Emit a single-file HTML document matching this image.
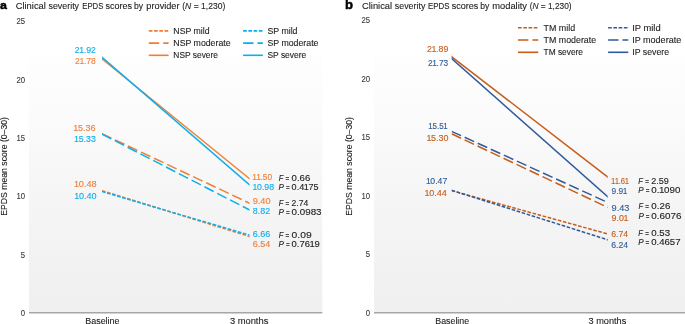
<!DOCTYPE html><html><head><meta charset="utf-8"><style>html,body{margin:0;padding:0;background:#fff;width:685px;height:324px;overflow:hidden}svg{display:block;will-change:transform}text{font-family:"Liberation Sans",sans-serif}</style></head><body>
<svg width="685" height="324" viewBox="0 0 685 324">
<defs><linearGradient id="g" x1="0" y1="0" x2="0" y2="1"><stop offset="0" stop-color="#fefefe"/><stop offset="0.18" stop-color="#fcfcfc"/><stop offset="0.4" stop-color="#f8f8f8"/><stop offset="0.78" stop-color="#f2f2f2"/><stop offset="1" stop-color="#f0f0f0"/></linearGradient></defs>
<rect x="29" y="55" width="293.3" height="257.8" fill="url(#g)"/>
<line x1="29" y1="312.65" x2="322.3" y2="312.65" stroke="#a6a6a6" stroke-width="1.5"/>
<text transform="translate(-0.1,8.9) scale(1.08,1)" font-size="11.5" font-weight="bold" fill="#000" stroke="#000" stroke-width="0.45">a</text>
<text transform="translate(15.68,9.30) scale(0.9964,1)" font-size="9.4" fill="#1e1e1e" stroke="#1e1e1e" stroke-width="0.12">Clinical</text>
<text transform="translate(48.51,9.30) scale(0.9436,1)" font-size="9.4" fill="#1e1e1e" stroke="#1e1e1e" stroke-width="0.12">severity</text>
<text transform="translate(82.22,9.30) scale(0.8237,1)" font-size="9.4" fill="#1e1e1e" stroke="#1e1e1e" stroke-width="0.12">EPDS</text>
<text transform="translate(105.51,9.30) scale(0.9597,1)" font-size="9.4" fill="#1e1e1e" stroke="#1e1e1e" stroke-width="0.12">scores</text>
<text transform="translate(134.00,9.30) scale(0.9134,1)" font-size="9.4" fill="#1e1e1e" stroke="#1e1e1e" stroke-width="0.12">by</text>
<text transform="translate(146.36,9.30) scale(0.9786,1)" font-size="9.4" fill="#1e1e1e" stroke="#1e1e1e" stroke-width="0.12">provider</text>
<text transform="translate(182.22,9.30) scale(0.9107,1)" font-size="9.4" fill="#1e1e1e" stroke="#1e1e1e" stroke-width="0.12">(<tspan font-style="italic">N</tspan> = 1,230)</text>
<text transform="translate(25.1,24.30) scale(0.88,1)" font-size="8.8" fill="#3a3a3a" stroke="#3a3a3a" stroke-width="0.12" text-anchor="end">25</text>
<text transform="translate(25.1,82.60) scale(0.88,1)" font-size="8.8" fill="#3a3a3a" stroke="#3a3a3a" stroke-width="0.12" text-anchor="end">20</text>
<text transform="translate(25.1,140.90) scale(0.88,1)" font-size="8.8" fill="#3a3a3a" stroke="#3a3a3a" stroke-width="0.12" text-anchor="end">15</text>
<text transform="translate(25.1,199.20) scale(0.88,1)" font-size="8.8" fill="#3a3a3a" stroke="#3a3a3a" stroke-width="0.12" text-anchor="end">10</text>
<text transform="translate(25.1,257.50) scale(0.88,1)" font-size="8.8" fill="#3a3a3a" stroke="#3a3a3a" stroke-width="0.12" text-anchor="end">5</text>
<text transform="translate(25.1,315.80) scale(0.88,1)" font-size="8.8" fill="#3a3a3a" stroke="#3a3a3a" stroke-width="0.12" text-anchor="end">0</text>
<text transform="translate(7.3,166.4) rotate(-90)" font-size="9.5" fill="#1e1e1e" stroke="#1e1e1e" stroke-width="0.12" text-anchor="middle" textLength="98.7" lengthAdjust="spacingAndGlyphs">EPDS mean score (0–30)</text>
<text transform="translate(85.22,323.80) scale(0.9226,1)" font-size="9.7" fill="#1e1e1e" stroke="#1e1e1e" stroke-width="0.12">Baseline</text>
<text transform="translate(229.89,323.80) scale(0.9648,1)" font-size="9.7" fill="#1e1e1e" stroke="#1e1e1e" stroke-width="0.12">3 months</text>
<line x1="148.8" y1="30.9" x2="168.6" y2="30.9" stroke="#ef7f35" stroke-width="1.6" stroke-dasharray="3.65 1.6"/>
<text transform="translate(173.33,33.80) scale(0.9504,1)" font-size="9.2" fill="#1e1e1e" stroke="#1e1e1e" stroke-width="0.12">NSP mild</text>
<line x1="148.8" y1="43.1" x2="168.6" y2="43.1" stroke="#ef7f35" stroke-width="1.6" stroke-dasharray="10.4 4.0"/>
<text transform="translate(173.33,46.00) scale(0.9524,1)" font-size="9.2" fill="#1e1e1e" stroke="#1e1e1e" stroke-width="0.12">NSP moderate</text>
<line x1="148.8" y1="55.3" x2="168.6" y2="55.3" stroke="#ef7f35" stroke-width="1.6"/>
<text transform="translate(173.36,58.20) scale(0.9130,1)" font-size="9.2" fill="#1e1e1e" stroke="#1e1e1e" stroke-width="0.12">NSP severe</text>
<line x1="243.1" y1="30.9" x2="262.9" y2="30.9" stroke="#0daeec" stroke-width="1.6" stroke-dasharray="3.65 1.6"/>
<text transform="translate(267.46,33.80) scale(0.9533,1)" font-size="9.2" fill="#1e1e1e" stroke="#1e1e1e" stroke-width="0.12">SP mild</text>
<line x1="243.1" y1="43.1" x2="262.9" y2="43.1" stroke="#0daeec" stroke-width="1.6" stroke-dasharray="10.4 4.0"/>
<text transform="translate(267.45,46.00) scale(0.9543,1)" font-size="9.2" fill="#1e1e1e" stroke="#1e1e1e" stroke-width="0.12">SP moderate</text>
<line x1="243.1" y1="55.3" x2="262.9" y2="55.3" stroke="#0daeec" stroke-width="1.6"/>
<text transform="translate(267.47,58.20) scale(0.9167,1)" font-size="9.2" fill="#1e1e1e" stroke="#1e1e1e" stroke-width="0.12">SP severe</text>
<clipPath id="ca"><rect x="102" y="0" width="147.5" height="324"/></clipPath><g clip-path="url(#ca)">
<line x1="100.5" y1="57.63" x2="251.0" y2="179.93" stroke="#ef7f35" stroke-width="1.5"/>
<line x1="100.5" y1="133.00" x2="251.0" y2="203.90" stroke="#ef7f35" stroke-width="1.5" stroke-dasharray="10.4 4.0" stroke-dashoffset="-1.658"/>
<line x1="100.5" y1="190.14" x2="251.0" y2="237.01" stroke="#ef7f35" stroke-width="1.5" stroke-dasharray="3.65 1.6" stroke-dashoffset="-1.571"/>
<line x1="100.5" y1="55.92" x2="251.0" y2="186.07" stroke="#0daeec" stroke-width="1.5"/>
<line x1="100.5" y1="133.28" x2="251.0" y2="210.73" stroke="#0daeec" stroke-width="1.5" stroke-dasharray="10.4 4.0" stroke-dashoffset="-1.687"/>
<line x1="100.5" y1="191.09" x2="251.0" y2="235.59" stroke="#0daeec" stroke-width="1.5" stroke-dasharray="3.65 1.6" stroke-dashoffset="-1.564"/>
</g>
<text transform="translate(74.82,52.90) scale(1.0116,1)" x="0.000 4.439 8.878 11.267 16.050" font-size="8.6" fill="#0daeec" stroke="#0daeec" stroke-width="0.12">21.92</text>
<text transform="translate(75.12,63.60) scale(0.9935,1)" x="0.000 4.439 8.878 11.267 16.050" font-size="8.6" fill="#ef7f35" stroke="#ef7f35" stroke-width="0.12">21.78</text>
<text transform="translate(73.63,130.70) scale(1.0472,1)" x="-0.344 4.095 8.878 11.267 16.050" font-size="8.6" fill="#ef7f35" stroke="#ef7f35" stroke-width="0.12">15.36</text>
<text transform="translate(74.43,141.50) scale(1.0273,1)" x="-0.344 4.095 8.878 11.267 16.050" font-size="8.6" fill="#0daeec" stroke="#0daeec" stroke-width="0.12">15.33</text>
<text transform="translate(74.42,186.90) scale(1.0670,1)" x="-0.344 4.095 8.878 11.267 16.050" font-size="8.6" fill="#ef7f35" stroke="#ef7f35" stroke-width="0.12">10.48</text>
<text transform="translate(74.62,199.40) scale(1.0548,1)" x="-0.344 4.095 8.878 11.267 16.050" font-size="8.6" fill="#0daeec" stroke="#0daeec" stroke-width="0.12">10.40</text>
<text transform="translate(252.55,179.60) scale(0.9690,1)" x="-0.344 3.751 8.190 10.579 15.362" font-size="8.6" fill="#ef7f35" stroke="#ef7f35" stroke-width="0.12">11.50</text>
<text transform="translate(252.83,189.80) scale(1.0223,1)" x="-0.344 4.095 8.878 11.267 16.050" font-size="8.6" fill="#0daeec" stroke="#0daeec" stroke-width="0.12">10.98</text>
<text transform="translate(252.73,203.90) scale(1.0679,1)" font-size="8.6" fill="#ef7f35" stroke="#ef7f35" stroke-width="0.12">9.40</text>
<text transform="translate(252.77,213.50) scale(1.0354,1)" font-size="8.6" fill="#0daeec" stroke="#0daeec" stroke-width="0.12">8.82</text>
<text transform="translate(252.70,237.40) scale(1.0542,1)" font-size="8.6" fill="#0daeec" stroke="#0daeec" stroke-width="0.12">6.66</text>
<text transform="translate(252.70,247.30) scale(1.0463,1)" font-size="8.6" fill="#ef7f35" stroke="#ef7f35" stroke-width="0.12">6.54</text>
<text transform="translate(278.63,181.00) scale(0.8702,1)" font-size="8.6" fill="#1e1e1e" stroke="#1e1e1e" stroke-width="0.12"><tspan font-style="italic">F</tspan></text>
<text transform="translate(285.54,181.00) scale(0.7402,1)" font-size="8.6" fill="#1e1e1e" stroke="#1e1e1e" stroke-width="0.12">=</text>
<text transform="translate(291.58,181.00) scale(1.1166,1)" font-size="8.6" fill="#1e1e1e" stroke="#1e1e1e" stroke-width="0.12">0.66</text>
<text transform="translate(278.61,190.30) scale(0.9398,1)" font-size="8.6" fill="#1e1e1e" stroke="#1e1e1e" stroke-width="0.12"><tspan font-style="italic">P</tspan></text>
<text transform="translate(285.94,190.30) scale(0.7402,1)" font-size="8.6" fill="#1e1e1e" stroke="#1e1e1e" stroke-width="0.12">=</text>
<text transform="translate(291.60,190.30) scale(1.0553,1)" x="0.000 4.783 7.172 11.611 16.050 20.833" font-size="8.6" fill="#1e1e1e" stroke="#1e1e1e" stroke-width="0.12">0.4175</text>
<text transform="translate(278.63,206.00) scale(0.8702,1)" font-size="8.6" fill="#1e1e1e" stroke="#1e1e1e" stroke-width="0.12"><tspan font-style="italic">F</tspan></text>
<text transform="translate(285.54,206.00) scale(0.7402,1)" font-size="8.6" fill="#1e1e1e" stroke="#1e1e1e" stroke-width="0.12">=</text>
<text transform="translate(291.52,206.00) scale(1.0027,1)" font-size="8.6" fill="#1e1e1e" stroke="#1e1e1e" stroke-width="0.12">2.74</text>
<text transform="translate(278.61,215.30) scale(0.9398,1)" font-size="8.6" fill="#1e1e1e" stroke="#1e1e1e" stroke-width="0.12"><tspan font-style="italic">P</tspan></text>
<text transform="translate(285.94,215.30) scale(0.7402,1)" font-size="8.6" fill="#1e1e1e" stroke="#1e1e1e" stroke-width="0.12">=</text>
<text transform="translate(291.57,215.30) scale(1.1409,1)" font-size="8.6" fill="#1e1e1e" stroke="#1e1e1e" stroke-width="0.12">0.0983</text>
<text transform="translate(278.63,237.60) scale(0.8702,1)" font-size="8.6" fill="#1e1e1e" stroke="#1e1e1e" stroke-width="0.12"><tspan font-style="italic">F</tspan></text>
<text transform="translate(285.54,237.60) scale(0.7402,1)" font-size="8.6" fill="#1e1e1e" stroke="#1e1e1e" stroke-width="0.12">=</text>
<text transform="translate(291.55,237.60) scale(1.2003,1)" font-size="8.6" fill="#1e1e1e" stroke="#1e1e1e" stroke-width="0.12">0.09</text>
<text transform="translate(278.61,247.00) scale(0.9398,1)" font-size="8.6" fill="#1e1e1e" stroke="#1e1e1e" stroke-width="0.12"><tspan font-style="italic">P</tspan></text>
<text transform="translate(285.94,247.00) scale(0.7402,1)" font-size="8.6" fill="#1e1e1e" stroke="#1e1e1e" stroke-width="0.12">=</text>
<text transform="translate(291.58,247.00) scale(1.0977,1)" x="0.000 4.783 7.172 11.955 16.394 20.833" font-size="8.6" fill="#1e1e1e" stroke="#1e1e1e" stroke-width="0.12">0.7619</text>
<rect x="374" y="55" width="316" height="257.8" fill="url(#g)"/>
<line x1="374" y1="312.65" x2="690" y2="312.65" stroke="#a6a6a6" stroke-width="1.5"/>
<text transform="translate(345.0,8.9) scale(1.05,1)" font-size="12.5" font-weight="bold" fill="#000" stroke="#000" stroke-width="0.45">b</text>
<text transform="translate(361.98,9.30) scale(0.9964,1)" font-size="9.4" fill="#1e1e1e" stroke="#1e1e1e" stroke-width="0.12">Clinical</text>
<text transform="translate(394.81,9.30) scale(0.9436,1)" font-size="9.4" fill="#1e1e1e" stroke="#1e1e1e" stroke-width="0.12">severity</text>
<text transform="translate(428.00,9.30) scale(0.8401,1)" font-size="9.4" fill="#1e1e1e" stroke="#1e1e1e" stroke-width="0.12">EPDS</text>
<text transform="translate(451.81,9.30) scale(0.9597,1)" font-size="9.4" fill="#1e1e1e" stroke="#1e1e1e" stroke-width="0.12">scores</text>
<text transform="translate(480.30,9.30) scale(0.9134,1)" font-size="9.4" fill="#1e1e1e" stroke="#1e1e1e" stroke-width="0.12">by</text>
<text transform="translate(492.23,9.30) scale(0.9952,1)" font-size="9.4" fill="#1e1e1e" stroke="#1e1e1e" stroke-width="0.12">modality</text>
<text transform="translate(529.63,9.30) scale(0.8891,1)" font-size="9.4" fill="#1e1e1e" stroke="#1e1e1e" stroke-width="0.12">(<tspan font-style="italic">N</tspan> = 1,230)</text>
<text transform="translate(370.1,23.30) scale(0.88,1)" font-size="8.8" fill="#3a3a3a" stroke="#3a3a3a" stroke-width="0.12" text-anchor="end">25</text>
<text transform="translate(370.1,81.80) scale(0.88,1)" font-size="8.8" fill="#3a3a3a" stroke="#3a3a3a" stroke-width="0.12" text-anchor="end">20</text>
<text transform="translate(370.1,140.30) scale(0.88,1)" font-size="8.8" fill="#3a3a3a" stroke="#3a3a3a" stroke-width="0.12" text-anchor="end">15</text>
<text transform="translate(370.1,198.80) scale(0.88,1)" font-size="8.8" fill="#3a3a3a" stroke="#3a3a3a" stroke-width="0.12" text-anchor="end">10</text>
<text transform="translate(370.1,257.30) scale(0.88,1)" font-size="8.8" fill="#3a3a3a" stroke="#3a3a3a" stroke-width="0.12" text-anchor="end">5</text>
<text transform="translate(370.1,315.80) scale(0.88,1)" font-size="8.8" fill="#3a3a3a" stroke="#3a3a3a" stroke-width="0.12" text-anchor="end">0</text>
<text transform="translate(352.3,166.4) rotate(-90)" font-size="9.5" fill="#1e1e1e" stroke="#1e1e1e" stroke-width="0.12" text-anchor="middle" textLength="98.7" lengthAdjust="spacingAndGlyphs">EPDS mean score (0–30)</text>
<text transform="translate(435.22,323.80) scale(0.9142,1)" font-size="9.7" fill="#1e1e1e" stroke="#1e1e1e" stroke-width="0.12">Baseline</text>
<text transform="translate(588.50,323.80) scale(0.9470,1)" font-size="9.7" fill="#1e1e1e" stroke="#1e1e1e" stroke-width="0.12">3 months</text>
<line x1="518" y1="27.7" x2="538.2" y2="27.7" stroke="#c85d1b" stroke-width="1.6" stroke-dasharray="3.65 1.6"/>
<text transform="translate(543.55,30.60) scale(0.9682,1)" font-size="9.2" fill="#1e1e1e" stroke="#1e1e1e" stroke-width="0.12">TM mild</text>
<line x1="518" y1="40" x2="538.2" y2="40" stroke="#c85d1b" stroke-width="1.6" stroke-dasharray="10.4 4.0"/>
<text transform="translate(543.56,42.90) scale(0.9613,1)" font-size="9.2" fill="#1e1e1e" stroke="#1e1e1e" stroke-width="0.12">TM moderate</text>
<line x1="518" y1="52.3" x2="538.2" y2="52.3" stroke="#c85d1b" stroke-width="1.6"/>
<text transform="translate(543.57,55.20) scale(0.9079,1)" font-size="9.2" fill="#1e1e1e" stroke="#1e1e1e" stroke-width="0.12">TM severe</text>
<line x1="608.1" y1="27.7" x2="628.3" y2="27.7" stroke="#305a9b" stroke-width="1.6" stroke-dasharray="3.65 1.6"/>
<text transform="translate(632.19,30.60) scale(1.0183,1)" font-size="9.2" fill="#1e1e1e" stroke="#1e1e1e" stroke-width="0.12">IP mild</text>
<line x1="608.1" y1="40" x2="628.3" y2="40" stroke="#305a9b" stroke-width="1.6" stroke-dasharray="10.4 4.0"/>
<text transform="translate(632.22,42.90) scale(0.9796,1)" font-size="9.2" fill="#1e1e1e" stroke="#1e1e1e" stroke-width="0.12">IP moderate</text>
<line x1="608.1" y1="52.3" x2="628.3" y2="52.3" stroke="#305a9b" stroke-width="1.6"/>
<text transform="translate(632.24,55.20) scale(0.9534,1)" font-size="9.2" fill="#1e1e1e" stroke="#1e1e1e" stroke-width="0.12">IP severe</text>
<clipPath id="cb"><rect x="451.6" y="0" width="156.10000000000002" height="324"/></clipPath><g clip-path="url(#cb)">
<line x1="450.1" y1="55.53" x2="609.2" y2="178.12" stroke="#c85d1b" stroke-width="1.5"/>
<line x1="450.1" y1="133.08" x2="609.2" y2="208.09" stroke="#c85d1b" stroke-width="1.5" stroke-dasharray="10.4 3.96" stroke-dashoffset="-1.658"/>
<line x1="450.1" y1="190.24" x2="609.2" y2="234.36" stroke="#c85d1b" stroke-width="1.5" stroke-dasharray="3.65 1.6" stroke-dashoffset="-1.557"/>
<line x1="450.1" y1="57.23" x2="609.2" y2="198.18" stroke="#305a9b" stroke-width="1.5"/>
<line x1="450.1" y1="130.65" x2="609.2" y2="203.15" stroke="#305a9b" stroke-width="1.5" stroke-dasharray="10.4 3.96" stroke-dashoffset="-1.648"/>
<line x1="450.1" y1="189.83" x2="609.2" y2="240.27" stroke="#305a9b" stroke-width="1.5" stroke-dasharray="3.65 1.6" stroke-dashoffset="-1.574"/>
</g>
<text transform="translate(427.01,51.70) scale(1.0203,1)" x="0.000 4.439 8.878 11.267 16.050" font-size="8.6" fill="#c85d1b" stroke="#c85d1b" stroke-width="0.12">21.89</text>
<text transform="translate(428.03,65.60) scale(0.9686,1)" x="0.000 4.439 8.878 11.267 16.050" font-size="8.6" fill="#305a9b" stroke="#305a9b" stroke-width="0.12">21.73</text>
<text transform="translate(428.66,128.90) scale(0.9361,1)" x="-0.344 4.095 8.878 11.267 15.706" font-size="8.6" fill="#305a9b" stroke="#305a9b" stroke-width="0.12">15.51</text>
<text transform="translate(426.83,140.90) scale(1.0400,1)" x="-0.344 4.095 8.878 11.267 16.050" font-size="8.6" fill="#c85d1b" stroke="#c85d1b" stroke-width="0.12">15.30</text>
<text transform="translate(426.24,183.60) scale(1.0105,1)" x="-0.344 4.095 8.878 11.267 16.050" font-size="8.6" fill="#305a9b" stroke="#305a9b" stroke-width="0.12">10.47</text>
<text transform="translate(424.82,195.70) scale(1.0557,1)" x="-0.344 4.095 8.878 11.267 16.050" font-size="8.6" fill="#c85d1b" stroke="#c85d1b" stroke-width="0.12">10.44</text>
<text transform="translate(611.27,183.70) scale(0.9017,1)" x="-0.344 3.751 8.190 10.579 15.018" font-size="8.6" fill="#c85d1b" stroke="#c85d1b" stroke-width="0.12">11.61</text>
<text transform="translate(611.57,193.90) scale(0.9690,1)" x="0.000 4.783 7.172 11.611" font-size="8.6" fill="#305a9b" stroke="#305a9b" stroke-width="0.12">9.91</text>
<text transform="translate(611.53,211.00) scale(1.0707,1)" font-size="8.6" fill="#305a9b" stroke="#305a9b" stroke-width="0.12">9.43</text>
<text transform="translate(611.54,220.60) scale(1.0396,1)" x="0.000 4.783 7.172 11.611" font-size="8.6" fill="#c85d1b" stroke="#c85d1b" stroke-width="0.12">9.01</text>
<text transform="translate(611.21,237.00) scale(1.0152,1)" font-size="8.6" fill="#c85d1b" stroke="#c85d1b" stroke-width="0.12">6.74</text>
<text transform="translate(611.21,247.70) scale(1.0152,1)" font-size="8.6" fill="#305a9b" stroke="#305a9b" stroke-width="0.12">6.24</text>
<text transform="translate(638.33,183.70) scale(0.8702,1)" font-size="8.6" fill="#1e1e1e" stroke="#1e1e1e" stroke-width="0.12"><tspan font-style="italic">F</tspan></text>
<text transform="translate(645.24,183.70) scale(0.7402,1)" font-size="8.6" fill="#1e1e1e" stroke="#1e1e1e" stroke-width="0.12">=</text>
<text transform="translate(651.20,183.70) scale(1.0565,1)" font-size="8.6" fill="#1e1e1e" stroke="#1e1e1e" stroke-width="0.12">2.59</text>
<text transform="translate(638.31,192.90) scale(0.9398,1)" font-size="8.6" fill="#1e1e1e" stroke="#1e1e1e" stroke-width="0.12"><tspan font-style="italic">P</tspan></text>
<text transform="translate(645.64,192.90) scale(0.7402,1)" font-size="8.6" fill="#1e1e1e" stroke="#1e1e1e" stroke-width="0.12">=</text>
<text transform="translate(651.27,192.90) scale(1.1383,1)" x="0.000 4.783 6.828 11.267 16.050 20.833" font-size="8.6" fill="#1e1e1e" stroke="#1e1e1e" stroke-width="0.12">0.1090</text>
<text transform="translate(638.43,209.40) scale(0.8702,1)" font-size="8.6" fill="#1e1e1e" stroke="#1e1e1e" stroke-width="0.12"><tspan font-style="italic">F</tspan></text>
<text transform="translate(645.34,209.40) scale(0.7402,1)" font-size="8.6" fill="#1e1e1e" stroke="#1e1e1e" stroke-width="0.12">=</text>
<text transform="translate(651.37,209.40) scale(1.1353,1)" font-size="8.6" fill="#1e1e1e" stroke="#1e1e1e" stroke-width="0.12">0.26</text>
<text transform="translate(638.41,218.50) scale(0.9398,1)" font-size="8.6" fill="#1e1e1e" stroke="#1e1e1e" stroke-width="0.12"><tspan font-style="italic">P</tspan></text>
<text transform="translate(645.74,218.50) scale(0.7402,1)" font-size="8.6" fill="#1e1e1e" stroke="#1e1e1e" stroke-width="0.12">=</text>
<text transform="translate(651.36,218.50) scale(1.1487,1)" font-size="8.6" fill="#1e1e1e" stroke="#1e1e1e" stroke-width="0.12">0.6076</text>
<text transform="translate(638.23,235.60) scale(0.8702,1)" font-size="8.6" fill="#1e1e1e" stroke="#1e1e1e" stroke-width="0.12"><tspan font-style="italic">F</tspan></text>
<text transform="translate(645.14,235.60) scale(0.7402,1)" font-size="8.6" fill="#1e1e1e" stroke="#1e1e1e" stroke-width="0.12">=</text>
<text transform="translate(651.17,235.60) scale(1.1291,1)" font-size="8.6" fill="#1e1e1e" stroke="#1e1e1e" stroke-width="0.12">0.53</text>
<text transform="translate(638.21,244.90) scale(0.9398,1)" font-size="8.6" fill="#1e1e1e" stroke="#1e1e1e" stroke-width="0.12"><tspan font-style="italic">P</tspan></text>
<text transform="translate(645.54,244.90) scale(0.7402,1)" font-size="8.6" fill="#1e1e1e" stroke="#1e1e1e" stroke-width="0.12">=</text>
<text transform="translate(651.18,244.90) scale(1.1162,1)" font-size="8.6" fill="#1e1e1e" stroke="#1e1e1e" stroke-width="0.12">0.4657</text>
</svg></body></html>
